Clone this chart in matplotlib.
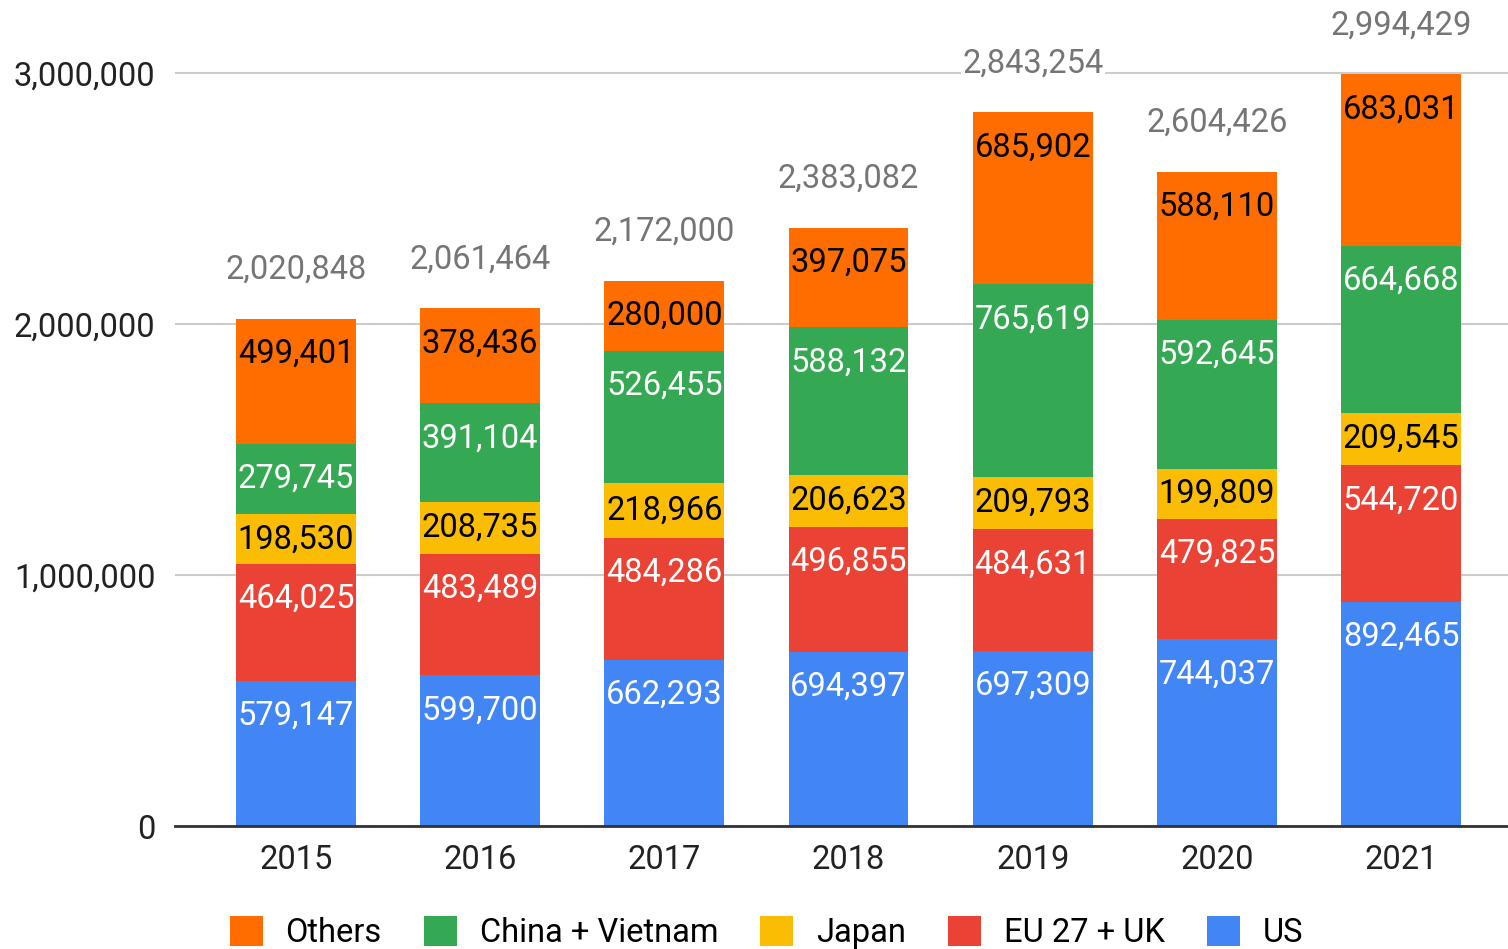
import matplotlib
matplotlib.use("Agg")
import matplotlib.pyplot as plt
import numpy as np
from matplotlib.patches import Patch

years = ["2015", "2016", "2017", "2018", "2019", "2020", "2021"]
us = [579147, 599700, 662293, 694397, 697309, 744037, 892465]
eu_uk = [464025, 483489, 484286, 496855, 484631, 479825, 544720]
japan = [198530, 208735, 218966, 206623, 209793, 199809, 209545]
china_vn = [279745, 391104, 526455, 588132, 765619, 592645, 664668]
others = [499401, 378436, 280000, 397075, 685902, 588110, 683031]
totals = [2020848, 2061464, 2172000, 2383082, 2843254, 2604426, 2994429]

series = [
    ("US", us, "#4285F4", "white"),
    ("EU 27 + UK", eu_uk, "#EA4335", "white"),
    ("Japan", japan, "#FBBC04", "black"),
    ("China + Vietnam", china_vn, "#34A853", "white"),
    ("Others", others, "#FF6D01", "black"),
]

plt.rcParams['font.family'] = ['Roboto', 'DejaVu Sans']
fs = 23.5

fig = plt.figure(figsize=(15.08, 9.49), dpi=100)
ax = fig.add_axes([0.116, 0.1296, 0.884, 0.8704])

ymax = 3290000
# label sits ~35 px under the segment top (or at the centre when the segment is small)
lab_off = 35 / 826 * ymax
tot_off = 49 / 826 * ymax

x = np.arange(len(years))
bottom = np.zeros(len(years))
for name, vals, color, tcol in series:
    vals = np.array(vals)
    ax.bar(x, vals, width=0.65, bottom=bottom, color=color, zorder=2)
    for xi, b, v in zip(x, bottom, vals):
        ypos = max(b + v / 2, b + v - lab_off)
        ax.text(xi, ypos, f"{v:,}", ha="center", va="center",
                color=tcol, fontsize=fs, zorder=3)
    bottom += vals

for xi, t in zip(x, totals):
    ax.text(xi, t + tot_off, f"{t:,}", ha="center", va="center",
            color="#757575", fontsize=fs, zorder=3,
            bbox=dict(facecolor="white", edgecolor="none", pad=1))

ax.set_xlim(-0.657, 6.58)
ax.set_ylim(0, ymax)
ax.set_yticks([0, 1000000, 2000000, 3000000])
ax.set_yticklabels(["0", "1,000,000", "2,000,000", "3,000,000"])
ax.set_xticks(x)
ax.set_xticklabels(years)
ax.tick_params(axis="both", length=0, labelsize=fs, colors="#222222")
ax.tick_params(axis="y", pad=14)
ax.tick_params(axis="x", pad=13)
for s in ["top", "right", "left"]:
    ax.spines[s].set_visible(False)
ax.spines["bottom"].set_color("#333333")
ax.spines["bottom"].set_linewidth(2)
ax.yaxis.grid(True, color="#cccccc", linewidth=1.5, zorder=0)
ax.set_axisbelow(True)

handles = [Patch(facecolor=c, label=n) for n, v, c, t in series[::-1]]
fig.legend(handles=handles, loc="center left", bbox_to_anchor=(230 / 1508, 0.017),
           ncol=5, frameon=False, fontsize=fs, handlelength=1.0,
           handleheight=1.0, columnspacing=1.3, handletextpad=0.7,
           borderaxespad=0, borderpad=0)

fig.savefig("out.png", dpi=100)
